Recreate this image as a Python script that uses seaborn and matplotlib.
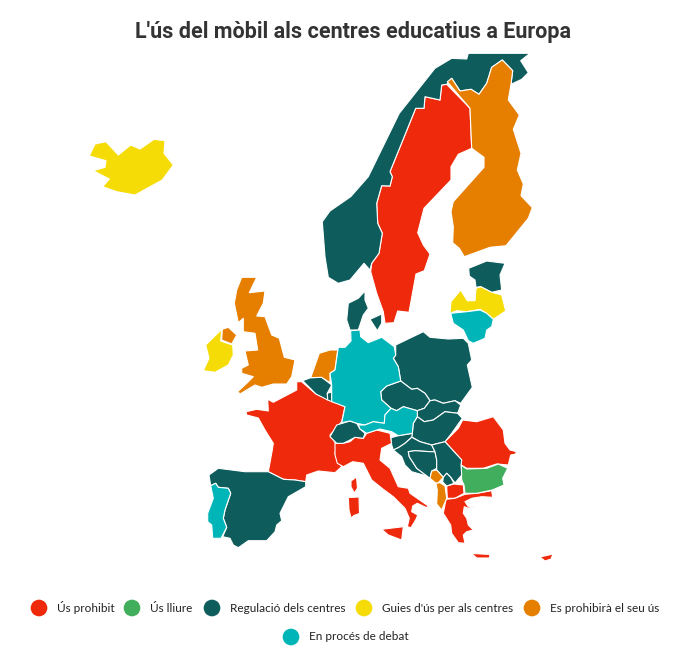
import seaborn as sns
import pandas as pd
import matplotlib.pyplot as plt

title = "L'ús del mòbil als centres educatius a Europa"
categories = ["Ús prohibit", "Ús lliure", "Regulació dels centres",
              "Guies d'ús per als centres", "Es prohibirà el seu ús", "En procés de debat"]
category_colors = ["#EF2A0C", "#41AE5E", "#0F5C5C", "#F5DC07", "#E67E00", "#00B5B8"]

# country outlines
norway = [(468.3,53.3),(530,53.3),(520.7,60.7),(528.3,72.7),(521.7,79.3),(511,84.3),(512.7,70.7),(502.3,60),(491.7,67.3),(486.7,83.3),(479,94.3),(471,89.3),(460,91),(451.7,78.3),(446.7,84.3),(441.7,85),(440,100),(425,96.7),(424,108.3),(415.7,108.3),(390,171.7),(392.3,176.7),(390,186),(381.7,185.7),(376.7,203.3),(377.7,223.3),(382.3,233.3),(379,253.3),(371.7,263.3),(370,270),(364,263.3),(350,280),(338.3,283.3),(328.3,277.3),(325,256.7),(322.3,221.7),(330,211),(350.7,196.7),(368.3,176.7),(399.3,113.3),(435,68.3),(451.7,58.3),(466.7,59)]
sweden = [(446.7,84.3),(470,108.3),(471.7,148.3),(458.3,154.3),(451,166.7),(451,180),(424,208.3),(417.7,232.7),(423.3,245),(430,254),(424.3,270.7),(416,274),(409,312.3),(397.7,311),(394,322.7),(385,323.3),(383.3,311.7),(376.7,293.3),(370.7,271.7),(371.7,263.3),(379,253.3),(382.3,233.3),(377.7,223.3),(376.7,203.3),(381.7,185.7),(390,186),(392.3,176.7),(390,171.7),(415.7,108.3),(424,108.3),(425,96.7),(440,100),(441.7,85)]
finland = [(447.3,81.7),(451.7,78.3),(460,91),(471,89.3),(479,94.3),(486.7,83.3),(491.7,67.3),(502.3,60),(512.7,70.7),(511,84.3),(508.3,100),(519.3,115),(513.3,129.3),(521,153.3),(517.3,170),(523.3,184),(521,195.7),(532.3,207.7),(528.3,218.3),(506,245.7),(490,247.3),(464.3,256.7),(459.3,248.3),(452.7,242.7),(453.3,226.7),(451,211.7),(453.3,201.7),(484,167.3),(484,157.3),(471.7,148.3),(470,108.3)]
estonia = [(468.7,268.3),(486.7,261),(505,263.3),(500,275),(501.7,290),(491.7,292.3),(480.7,286.7),(476,287.3),(475,280),(469.3,276)]
latvia = [(450,313.3),(451,301.7),(460.7,290),(467.3,300.7),(475,300.7),(476,288.3),(480.7,286.7),(491.7,292.3),(501.7,295),(505.7,311),(493.3,319.3),(486.7,313.3),(480,309.3),(466.7,311.7),(456.7,310.7)]
lithuania = [(450.7,313.3),(466.7,311.7),(480,310),(486.7,313.3),(493.3,319.3),(491.7,326.7),(486.7,330),(485,338.3),(473.3,343.3),(468.3,340.7),(463.3,330),(453.3,323.3)]
jutland = [(365,291),(365,300),(368.3,308.3),(363.3,315),(358.3,330),(350,330),(346.7,320),(348.3,303.3),(358.3,298.3)]
zealand = [(370,319.3),(381.7,314),(381.7,323.3),(377.3,330.7)]
germany = [(350.7,330.7),(360,330),(360.7,336.7),(368.3,342.7),(381.7,337.3),(394.3,346.7),(395.7,355),(393.3,358.3),(398.3,366.7),(400.7,381),(386.7,386),(380.7,391.7),(381.7,400),(391,408.3),(385,415),(384.3,423.3),(373.3,421.7),(365,425),(356.7,423.3),(350,421),(341.7,422.7),(345,406.7),(331.7,401.7),(331.7,385),(330,373.3),(335,370),(338.3,347.3),(345,347.3),(351,341)]
poland = [(395.7,345),(423.3,331.7),(430,337.3),(448.3,339),(463.3,338.3),(468.3,343.3),(471.7,360),(467.3,365),(472.3,387.3),(460.7,403.3),(455,400.7),(443.3,403.3),(435,400),(430,400.7),(425,393.3),(417.3,388.3),(411.7,389.3),(400.7,381),(398.3,366.7),(393.3,358.3),(395.7,355)]
czechia = [(380.7,391.7),(386.7,386),(400.7,381),(411.7,389.3),(417.3,388.3),(425,393.3),(430,400.7),(424.3,408.3),(417.3,410.7),(403.3,406.7),(396.7,410.7),(391,408.3),(381.7,400)]
slovakia = [(430,400.7),(435,400),(443.3,403.3),(455,400.7),(460.7,405),(457.7,413.3),(445,411.7),(433.3,420),(424.3,421.7),(417.3,416.7),(417.3,410.7),(424.3,408.3)]
hungary = [(417.3,416.7),(424.3,421.7),(433.3,420),(445,411.7),(457.7,413.3),(462.3,418.3),(451.7,433.3),(445,441.7),(431.7,445),(420,441.7),(411.7,437),(412.3,433.3),(413.3,423.3)]
austria = [(358.3,425),(365,425),(373.3,421.7),(384.3,423.3),(385,415),(391,408.3),(396.7,410.7),(403.3,406.7),(417.3,410.7),(417.3,416.7),(413.3,423.3),(412.3,433.3),(398.3,435.7),(391.7,431.7),(380,429),(366.7,433.3),(360,429)]
switzerland = [(330,436.7),(336.7,425),(350,421),(356.7,423.3),(360,429),(365,433.3),(363.3,438.3),(355,437.3),(350,440),(343.3,443.3),(336.7,443.3)]
france = [(296.7,381.7),(301.7,381.7),(316,394),(326.7,398.3),(345,406.7),(341.7,421.7),(330,435),(336.7,445),(335,453.3),(339,461.7),(341.7,466.7),(335,472.7),(318.3,471),(306.7,475),(305.7,481.7),(295,480),(283.3,479.3),(268.3,471.7),(272.3,450),(273.3,443.3),(265,430),(258.3,418),(246.7,415),(246,411.7),(256.7,409.3),(268.3,411),(267.7,399.3),(273.3,402.3),(296.7,390)]
belgium = [(302.7,380.7),(310.7,377.7),(321.7,377.3),(331.7,385),(327.3,393.3),(327.7,400),(316,394)]
luxembourg = [(327.3,393.3),(331.7,392),(331.7,401.7),(327.7,400)]
netherlands = [(310.7,377.7),(319.3,353.3),(330,350),(337.7,350),(335,370),(330,373.3),(330,382.7),(321.7,377.3)]
britain = [(241.7,277.3),(256.7,277.3),(249.3,292.7),(265,291),(263.3,303.3),(256.7,316),(265,316.7),(271.7,335),(279.3,338.3),(284.3,357.3),(295,360),(291.7,376.7),(286.7,384),(273.3,384),(261.7,387.3),(255,385),(240,394),(237.7,391.7),(248.3,381.7),(253.3,376.7),(241.7,373.3),(241.7,368.3),(248.3,365),(245,351),(257.7,350),(255,333.3),(243.3,331.7),(243.3,318.3),(238.3,322.7),(234.3,303.3),(236.7,290)]
n_ireland = [(222.3,329.3),(228.3,327.3),(236.7,335),(231.7,344),(221.7,340)]
ireland = [(221.7,329.3),(220.7,341),(232.7,345),(233.3,355),(228.3,365),(215,372.3),(203.3,370.7),(209,358.3),(205.7,345)]
iceland = [(95,144),(106,141.7),(118.3,155),(130.7,145),(140,149),(154,139.3),(165,140.7),(164,153.3),(173.3,165),(162.3,180),(135,195),(116.7,191.7),(102.7,186.7),(109.3,179),(93.3,170.7),(105,167.3),(106,160.7),(89.3,156)]
spain = [(209,475),(218.3,468.3),(245,471.7),(268.3,471.7),(283.3,479.3),(295,480),(305.7,481.7),(305.7,486.7),(288.3,496.7),(280,513.3),(281.7,520.7),(276.7,525),(275,531.7),(266.7,540.7),(248.3,540.7),(238.3,547.7),(233.3,545),(230,538.3),(222.7,536.7),(226.7,527.3),(223.3,518.3),(225,510),(230.7,493.3),(228.3,488.3),(218.3,487.3),(215.7,483.3),(210.7,485.7)]
portugal = [(210.7,485.7),(215.7,483.3),(218.3,487.3),(228.3,488.3),(230.7,493.3),(225,510),(223.3,518.3),(226.7,527.3),(221,538.3),(212.7,538.3),(211.7,525),(207.7,521.7),(207.7,513.3),(213.3,498.3)]
italy = [(335,443.3),(343.3,443.3),(350,441.7),(355,437.3),(363.3,438.3),(366.7,433.3),(376.7,430),(390,433.3),(391.7,443.3),(381.7,448.3),(380,460),(390,468.3),(398.3,486.7),(408.3,488.3),(410,493.3),(428.3,506),(426.7,507.7),(417.3,503.3),(412.7,506),(411.7,511.7),(417.7,515),(416,519.3),(411,527.7),(407.3,526.7),(409.3,518.3),(405,508.3),(393.3,496.7),(383.3,489.3),(371.7,480),(363.3,463.3),(352.7,461.7),(343.3,466.7),(337.3,463.3),(335,455)]
sicily = [(381.7,529.3),(403.3,526.7),(401.7,540),(388.3,535)]
corsica = [(351,481),(356.5,477),(357.5,488),(354.5,493),(351,487)]
sardinia = [(348.3,497.5),(359,497),(359.5,513.5),(354,515.5),(351,518),(349,510)]
slovenia = [(391,437.7),(398.3,435.7),(412.3,433.3),(411.7,437.3),(405,443.3),(398.3,447.7),(393.3,450),(391.7,445)]
croatia = [(393.3,450),(398.3,447.7),(405,443.3),(411.7,437.3),(420,441.7),(431.7,445),(435,451.7),(430,451.7),(415,450.7),(408.3,451.7),(409.3,456.7),(416.7,468.3),(430,478.3),(423.3,475),(411.7,471.7),(405,465),(401.7,456.7)]
bosnia = [(408.3,451.7),(415,450.7),(430,451.7),(435,451.7),(436.7,460),(436.7,468.3),(431.7,471),(430,478.3),(416.7,468.3),(409.3,456.7)]
serbia = [(431.7,445),(445,441.7),(461.7,460),(461,465),(461.7,475),(455,483),(450.7,477.3),(446.7,473.3),(443.3,477.3),(436.7,470),(436.7,460),(435,451.7)]
montenegro = [(430,478.3),(431.7,471),(436.7,470),(443.3,477.3),(438.3,482.7),(436,483.3)]
albania = [(436,483.3),(440,482.7),(445,486),(446.7,498.3),(441.7,510),(436.7,504),(437.3,490)]
kosovo = [(443.3,477.3),(446.7,473.3),(450.7,477.3),(454,483.3),(446.7,486),(442.7,482)]
macedonia = [(446.7,486),(454,484),(463.3,485),(464,493.3),(455,498.3),(447.3,498.3)]
bulgaria = [(461,465),(466.7,469),(486.7,468.3),(498.3,464),(507.7,468.3),(502.7,478.3),(504,485),(492.3,490),(476.7,493.3),(465,493.3),(464,485),(461.7,480)]
romania = [(445,441.7),(458.3,428.3),(462.7,420),(476.7,421.7),(493.3,416.7),(503.3,430),(505,443.3),(510,450),(516.7,451.7),(515,454.3),(510.7,455),(508.3,465),(496.7,464),(483.3,468.3),(466.7,468.3),(461,465),(461.7,460)]
greece = [(446,499.3),(455,498.3),(465,494.3),(476.7,493.3),(491.7,490.7),(492.7,497.3),(481.7,496.7),(471.7,498.3),(465,501.7),(468.3,506.7),(475,506.7),(468.3,508.3),(464.3,506.7),(463.3,513.3),(466.7,518.3),(468.3,525),(473.3,530),(466.7,531.7),(463.3,535),(465,543.3),(458.3,542.7),(451.7,533.3),(450.7,525),(443.3,513.3)]
crete = [(470,552),(473.3,553.5),(490,554.5),(489.3,558),(476.7,558)]
cyprus = [(540,557),(553,554),(551,559),(545,561)]

prohibit = [sweden, france, italy, sicily, corsica, sardinia, macedonia, greece, crete, cyprus, romania]
free_use = [bulgaria]
regulated = [norway, estonia, jutland, zealand, poland, czechia, slovakia, hungary, switzerland, belgium,
             luxembourg, spain, slovenia, croatia, bosnia, serbia, kosovo]
guides = [latvia, ireland, iceland]
will_ban = [finland, netherlands, britain, n_ireland, montenegro, albania]
debate = [lithuania, germany, austria, portugal]
groups = [prohibit, free_use, regulated, guides, will_ban, debate]

sns.set_theme(style="white")

fig, ax = plt.subplots(figsize=(6.86, 6.51), dpi=100)
ax.set_position([0, 0, 1, 1])

palette = dict(zip(categories, sns.color_palette(category_colors)))

for cat, shapes in zip(categories, groups):
    for shape in shapes:
        xs, ys = zip(*shape)
        ax.fill(xs, ys, facecolor=palette[cat], edgecolor="white", linewidth=0.8, joinstyle="round")

# legend is laid out by hand, two centred rows
legend_x = [39, 132, 212, 364, 532, 291]
legend_y = [608, 608, 608, 608, 608, 637]
legend_df = pd.DataFrame({"x": legend_x, "y": legend_y, "cat": categories})
sns.scatterplot(data=legend_df, x="x", y="y", hue="cat", palette=palette, s=144, linewidth=0,
                ax=ax, legend=False, clip_on=False)
ax.set_xlim(0, 686)
ax.set_ylim(651, 0)
ax.axis("off")
for x, y, cat in zip(legend_x, legend_y, categories):
    ax.text(x + 18, y, cat, fontsize=8.5, family=["Lato", "DejaVu Sans"], color="#222222", va="center")

ax.text(353, 32, title, fontsize=15.5, fontweight="bold", color="#333333", ha="center", va="center",
        family=["Roboto", "DejaVu Sans"])

plt.savefig("out.png", dpi=100)
